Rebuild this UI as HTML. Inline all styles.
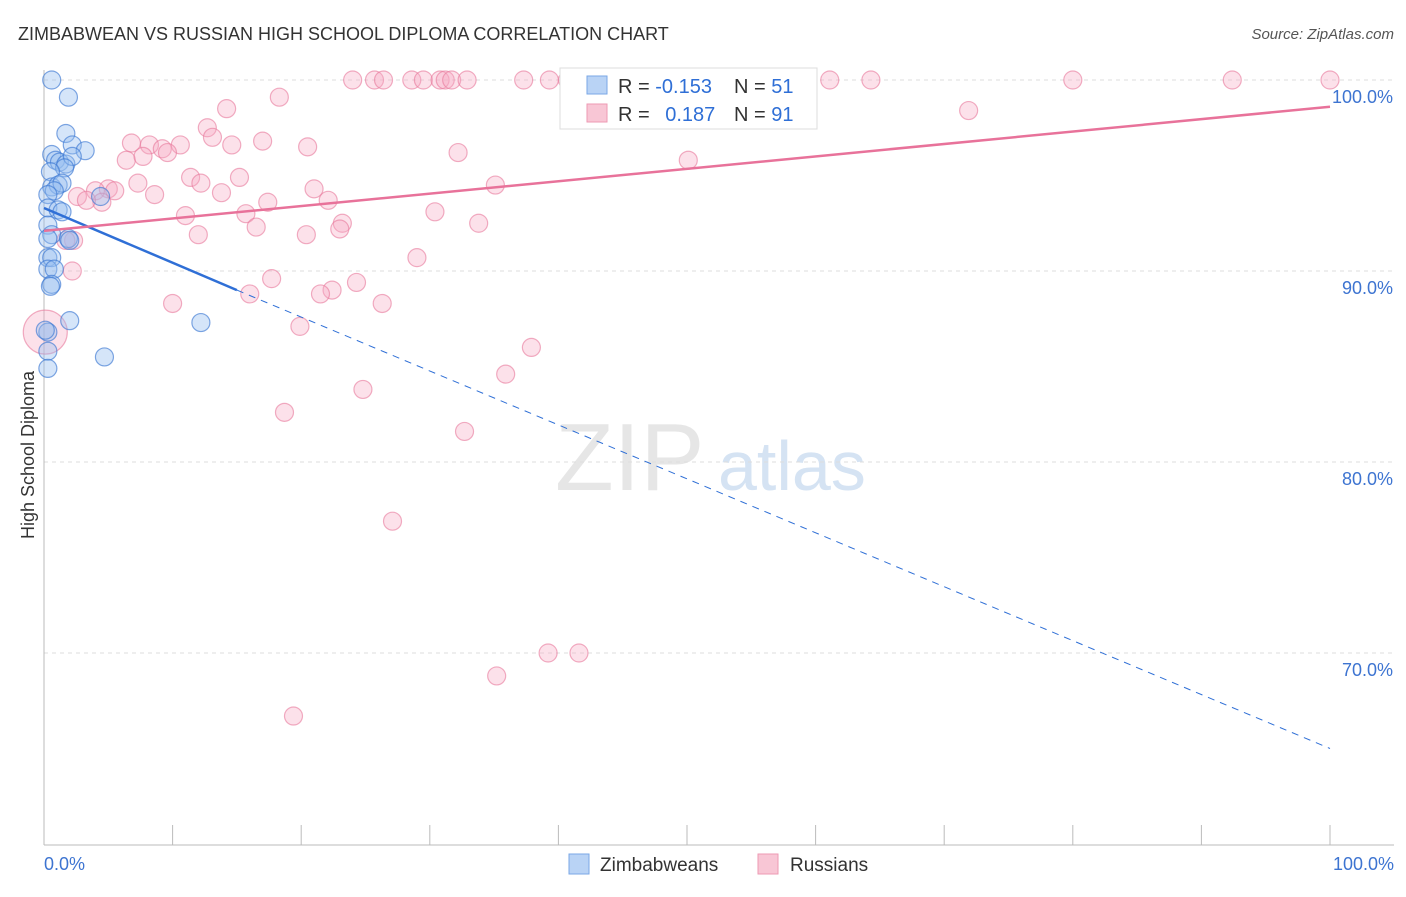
<!DOCTYPE html>
<html><head><meta charset="utf-8"><style>
body{margin:0;background:#fff;font-family:"Liberation Sans",sans-serif}
svg text{font-family:"Liberation Sans",sans-serif}
</style></head><body>
<svg id="c" width="1406" height="892">
<text x="18" y="40" font-size="18" fill="#333">ZIMBABWEAN VS RUSSIAN HIGH SCHOOL DIPLOMA CORRELATION CHART</text>
<text x="1394" y="39" font-size="15" fill="#555" font-style="italic" text-anchor="end">Source: ZipAtlas.com</text>
<text transform="translate(34,455) rotate(-90)" font-size="18" fill="#333" text-anchor="middle">High School Diploma</text>
<text x="555" y="490" font-size="96" fill="#e6e6e6" font-family="Liberation Serif">ZIP</text>
<text x="718" y="490" font-size="70" fill="#d5e3f3">atlas</text>
<g id="grid"></g><g id="axes"></g><g id="pts"></g><g id="trends"></g>
<g>
<rect x="560" y="68" width="257" height="61" fill="#fff" stroke="#ddd"/>
<rect x="587" y="76" width="20" height="18" fill="#b9d3f5" stroke="#7aa7e6"/>
<rect x="587" y="104" width="20" height="18" fill="#f8c6d5" stroke="#ee9ab3"/>
<text x="618" y="93" font-size="20" fill="#333">R = <tspan fill="#2f6fd6">-0.153</tspan></text>
<text x="734" y="93" font-size="20" fill="#333">N = <tspan fill="#2f6fd6">51</tspan></text>
<text x="618" y="121" font-size="20" fill="#333">R = <tspan fill="#2f6fd6" dx="10">0.187</tspan></text>
<text x="734" y="121" font-size="20" fill="#333">N = <tspan fill="#2f6fd6">91</tspan></text>
</g>
<g>
<rect x="569" y="854" width="20" height="20" fill="#b9d3f5" stroke="#7aa7e6"/>
<text x="600" y="871" font-size="19" fill="#333">Zimbabweans</text>
<rect x="758" y="854" width="20" height="20" fill="#f8c6d5" stroke="#ee9ab3"/>
<text x="790" y="871" font-size="19" fill="#333">Russians</text>
</g>
</svg>
<script>
const yTicks=[100,90,80,70];
const xTickLabels=["0.0%","100.0%"];
const blueX=[0.6,1.9,1.7,2.2,3.2,0.6,0.9,1.2,1.7,2.2,1.6,0.5,0.6,1.1,1.4,0.8,0.3,4.4,0.3,1.1,1.4,0.3,0.6,1.9,2.0,0.3,0.3,0.6,0.3,0.8,0.6,0.5,2.0,12.2,4.7,0.3,0.3,0.3,0.1];
const blueY=[100,99.1,97.2,96.6,96.3,96.1,95.8,95.7,95.6,96.0,95.4,95.2,94.4,94.5,94.6,94.2,94.0,93.9,93.3,93.2,93.1,92.4,91.9,91.7,91.6,91.7,90.7,90.7,90.1,90.1,89.3,89.2,87.4,87.3,85.5,86.8,85.8,84.9,86.9];
const pinkX=[24.0,25.7,26.4,28.6,29.5,30.8,31.2,31.7,32.9,37.3,39.3,40.7,47.1,52.2,54.5,59.4,61.1,64.3,80.0,92.4,100,18.3,14.2,71.9,12.7,13.1,6.8,8.2,10.6,14.6,17.0,20.5,9.2,9.6,6.4,7.7,32.2,50.1,15.2,11.4,7.3,12.2,5.0,4.0,5.5,2.6,4.5,3.3,8.6,13.8,17.4,22.1,21.0,35.1,30.4,33.8,15.7,11.0,23.2,23.0,16.5,12.0,20.4,2.3,1.7,29.0,2.2,17.7,24.3,16.0,22.4,21.5,10.0,26.3,19.9,37.9,35.9,24.8,18.7,32.7,27.1,39.2,41.6,35.2,19.4,0.1];
const pinkY=[100,100,100,100,100,100,100,100,100,100,100,100,100,100,100,100,100,100,100,100,100,99.1,98.5,98.4,97.5,97.0,96.7,96.6,96.6,96.6,96.8,96.5,96.4,96.2,95.8,96.0,96.2,95.8,94.9,94.9,94.6,94.6,94.3,94.2,94.2,93.9,93.6,93.7,94.0,94.1,93.6,93.7,94.3,94.5,93.1,92.5,93.0,92.9,92.5,92.2,92.3,91.9,91.9,91.6,91.6,90.7,90.0,89.6,89.4,88.8,89.0,88.8,88.3,88.3,87.1,86.0,84.6,83.8,82.6,81.6,76.9,70.0,70.0,68.8,66.7,86.8];
const X=v=>44+v*12.86, Y=v=>80+(100-v)*19.1;
const NS="http://www.w3.org/2000/svg";
function mk(t,a,p){const e=document.createElementNS(NS,t);for(const k in a)e.setAttribute(k,a[k]);p.appendChild(e);return e;}
const grid=document.getElementById('grid'),axes=document.getElementById('axes'),pts=document.getElementById('pts'),tr=document.getElementById('trends');
yTicks.forEach(t=>{const l=mk('line',{x1:44,x2:1394,y1:Y(t),y2:Y(t),stroke:'#ddd','stroke-dasharray':'4,4'},grid);

const tx=mk('text',{x:1393,y:Y(t)+23,'font-size':18,fill:'#3d74d1','text-anchor':'end'},grid);tx.textContent=t.toFixed(1)+'%';
});
const ax=mk('line',{x1:44,x2:44,y1:70,y2:845,stroke:'#bbb'},axes);
const bx=mk('line',{x1:44,x2:1394,y1:845,y2:845,stroke:'#bbb'},axes);
for(let i=0;i<=10;i++){const t=mk('line',{x1:X(i*10),x2:X(i*10),y1:825,y2:845,stroke:'#bbb'},axes);}
[[0,'start',44],[100,'end',1394]].forEach((d,i)=>{const t=mk('text',{x:d[2],y:870,'font-size':18,fill:'#3d74d1','text-anchor':d[1]},axes);t.textContent=xTickLabels[i];});
pinkX.forEach((x,i)=>{const c=mk('circle',{cx:X(x),cy:Y(pinkY[i]),r:i==pinkX.length-1?22:9,fill:'rgba(246,170,195,0.35)',stroke:'rgba(232,120,155,0.6)','stroke-width':1.2},pts);
});
blueX.forEach((x,i)=>{const c=mk('circle',{cx:X(x),cy:Y(blueY[i]),r:9,fill:'rgba(150,190,240,0.4)',stroke:'rgba(60,120,210,0.65)','stroke-width':1.2},pts);
});
const bl=mk('line',{x1:X(0),y1:Y(93.3),x2:X(15),y2:Y(89.0),stroke:'#2f6fd6','stroke-width':2.5},tr);
const bd=mk('line',{x1:X(15),y1:Y(89.0),x2:X(100),y2:Y(65.0),stroke:'#2f6fd6','stroke-width':1,'stroke-dasharray':'7,6'},tr);
const pl=mk('line',{x1:X(0),y1:Y(92.1),x2:X(100),y2:Y(98.6),stroke:'#e8729a','stroke-width':2.5},tr);
</script>
</body></html>
